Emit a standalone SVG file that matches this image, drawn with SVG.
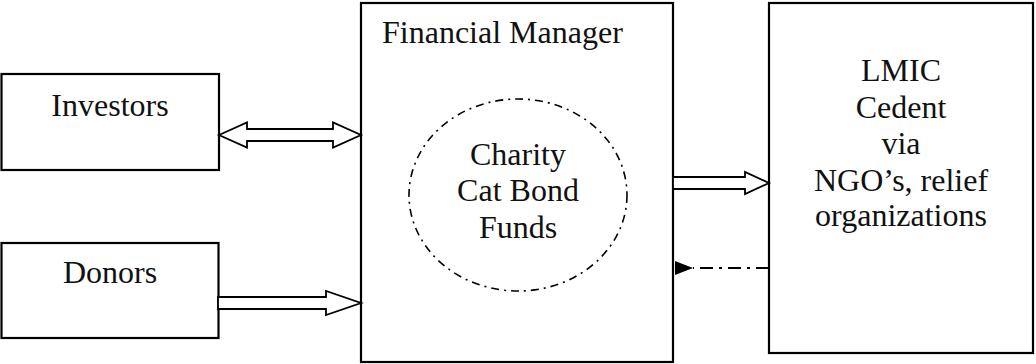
<svg xmlns="http://www.w3.org/2000/svg" width="1036" height="364" viewBox="0 0 1036 364">
<style>
.box{fill:#fff;stroke:#000;stroke-width:2.2}
.t{font-family:"Liberation Serif","Times New Roman",serif;font-size:32px;fill:#111}
.c{text-anchor:middle}
.dbl{fill:#fff;stroke:#000;stroke-width:1.8;stroke-linejoin:miter}
</style>
<defs>
<marker id="tri" markerWidth="18" markerHeight="14" refX="0" refY="7" orient="auto" markerUnits="userSpaceOnUse">
<path d="M18,0 L0,7 L18,14 Z" fill="#000"/>
</marker>
</defs>
<g id="investors">
<rect class="box" x="1.5" y="74" width="217.5" height="96"/>
<text class="t c" x="110" y="116">Investors</text>
</g>
<g id="donors">
<rect class="box" x="1.5" y="243" width="217" height="95"/>
<text class="t c" x="110" y="283">Donors</text>
</g>
<g id="financial-manager">
<rect class="box" x="361" y="3" width="312" height="359"/>
<text class="t" x="382" y="43">Financial Manager</text>
</g>
<g id="funds">
<ellipse cx="518" cy="195" rx="109" ry="96" fill="none" stroke="#000" stroke-width="1.6" stroke-dasharray="8 5 2 5"/>
<text class="t c" x="518" y="165">Charity</text>
<text class="t c" x="518" y="201">Cat Bond</text>
<text class="t c" x="518" y="238">Funds</text>
</g>
<g id="lmic">
<rect class="box" x="769" y="3" width="264" height="350"/>
<text class="t c" x="901" y="81">LMIC</text>
<text class="t c" x="901" y="117.5">Cedent</text>
<text class="t c" x="901" y="154">via</text>
<text class="t c" x="901" y="190.5">NGO’s, relief</text>
<text class="t c" x="901" y="226">organizations</text>
</g>
<g id="connectors">
<polygon class="dbl" points="219,135 247,122.5 247,129 333,129 333,122.5 361,135 333,147.5 333,141 247,141 247,147.5"/>
<polygon class="dbl" points="218,297 326,297 326,291 361,303 326,315 326,309 218,309"/>
<polygon class="dbl" points="673,177 745,177 745,172 769,183 745,194 745,189 673,189"/>
<line x1="769" y1="268" x2="693" y2="268" stroke="#000" stroke-width="1.8" stroke-dasharray="13 6 3 6" marker-end="url(#tri)"/>
</g>
</svg>
